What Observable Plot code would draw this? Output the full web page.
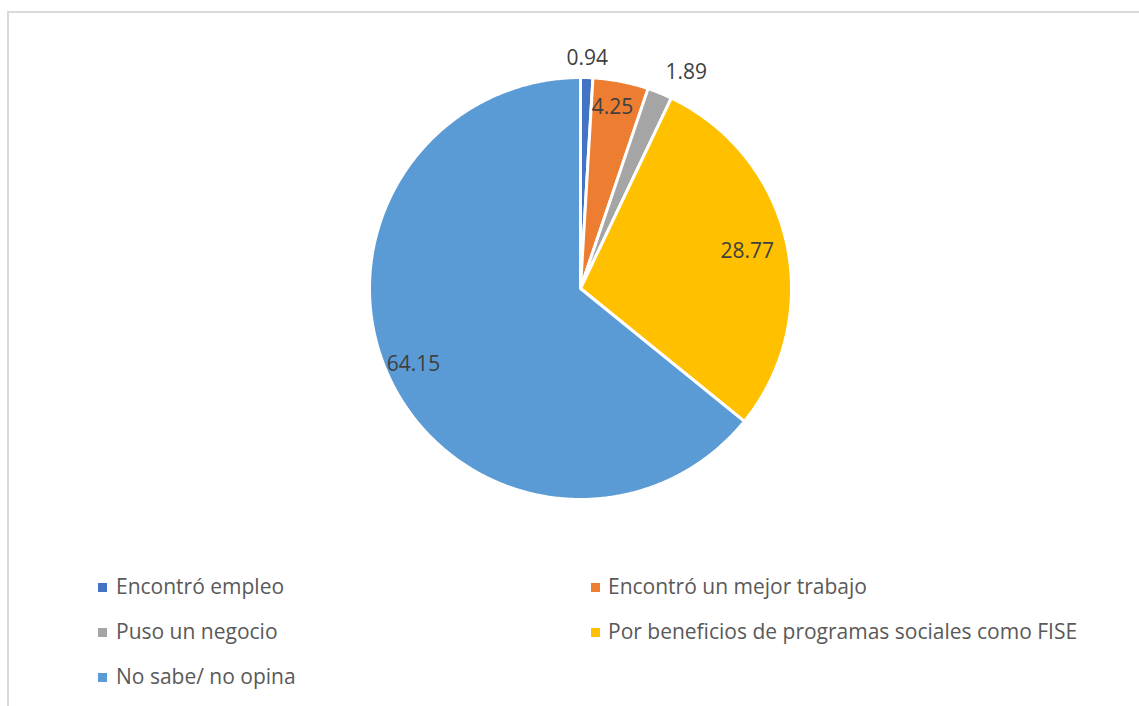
<!DOCTYPE html>
<html>
<head>
<meta charset="utf-8">
<script src="https://cdn.jsdelivr.net/npm/d3@7"></script>
<script src="https://cdn.jsdelivr.net/npm/@observablehq/plot@0.6"></script>
<style>
  html, body { margin: 0; padding: 0; background: #fff; overflow: hidden; }
  #wrap { position: relative; width: 1139px; height: 706px; overflow: hidden; font-family: "Open Sans", sans-serif; }
  #frame { position: absolute; left: 7px; top: 11px; width: 1300px; height: 900px; border-left: 2px solid #d9d9d9; border-top: 2px solid #d9d9d9; box-sizing: border-box; }
  #chart { position: absolute; left: 0; top: 0; }
  .lg { position: absolute; font-size: 21px; color: #595959; line-height: 1; white-space: nowrap; }
  .sw { position: absolute; width: 9px; height: 9px; }
</style>
</head>
<body>
<div id="wrap">
  <div id="frame"></div>
  <div id="chart"></div>
  <div id="legend"></div>
</div>
<script>
const categories = ["Encontró empleo", "Encontró un mejor trabajo", "Puso un negocio", "Por beneficios de programas sociales como FISE", "No sabe/ no opina"];
const values = [0.94, 4.25, 1.89, 28.77, 64.15];
const colors = ["#4472C4", "#ED7D31", "#A5A5A5", "#FFC000", "#5B9BD5"];

// label radial placement (fraction of radius), style only
const labelRadius = [1.09, 0.87, 1.14, 0.81, 0.87];
const labelAngleShift = [0, -1, 4, 0, 1];

const total = d3.sum(values);
const slices = [];
const labels = [];
let cum = 0;
values.forEach((v, i) => {
  const a0 = cum / total * 2 * Math.PI;
  cum += v;
  const a1 = cum / total * 2 * Math.PI;
  const ring = [[0, 0]];
  const n = Math.max(2, Math.ceil((a1 - a0) / (Math.PI / 360)));
  for (let k = 0; k <= n; k++) {
    const a = a0 + (a1 - a0) * k / n;
    ring.push([Math.sin(a), -Math.cos(a)]);
  }
  ring.push([0, 0]);
  slices.push({type: "Feature", properties: {cat: categories[i], value: v}, geometry: {type: "Polygon", coordinates: [ring]}});
  const am = (a0 + a1) / 2 + labelAngleShift[i] * Math.PI / 180;
  labels.push({cat: categories[i], label: v.toFixed(2), x: labelRadius[i] * Math.sin(am), y: -labelRadius[i] * Math.cos(am)});
});

const W = 1139, H = 540;
const cx = 580, cy = 288, R = 211;

const plot = Plot.plot({
  width: W,
  height: H,
  marginLeft: cx - R,
  marginRight: W - (cx + R),
  marginTop: cy - R,
  marginBottom: H - (cy + R),
  projection: {type: "identity", domain: {type: "MultiPoint", coordinates: [[-1, -1], [1, 1]]}, clip: false},
  color: {domain: categories, range: colors},
  style: {fontFamily: "Open Sans", background: "transparent", overflow: "visible"},
  marks: [
    Plot.geo(slices, {fill: d => d.properties.cat, stroke: "white", strokeWidth: 3, strokeLinejoin: "round"}),
    Plot.text(labels, {x: "x", y: "y", text: "label", fill: "#404040", fontSize: 21, textAnchor: "middle", lineAnchor: "middle", clip: false})
  ]
});
document.getElementById("chart").appendChild(plot);

// legend (HTML, below the svg area)
const legend = document.getElementById("legend");
const cols = [{sw: 98, tx: 116}, {sw: 591, tx: 608}];
const rowY = [587, 632, 677];
categories.forEach((c, i) => {
  const col = cols[i % 2], y = rowY[Math.floor(i / 2)];
  const s = document.createElement("div");
  s.className = "sw";
  s.style.left = col.sw + "px";
  s.style.top = (y - 4.5) + "px";
  s.style.background = colors[i];
  legend.appendChild(s);
  const t = document.createElement("div");
  t.className = "lg";
  t.textContent = c;
  t.style.left = col.tx + "px";
  t.style.top = (y - 11) + "px";
  legend.appendChild(t);
});
</script>
</body>
</html>
